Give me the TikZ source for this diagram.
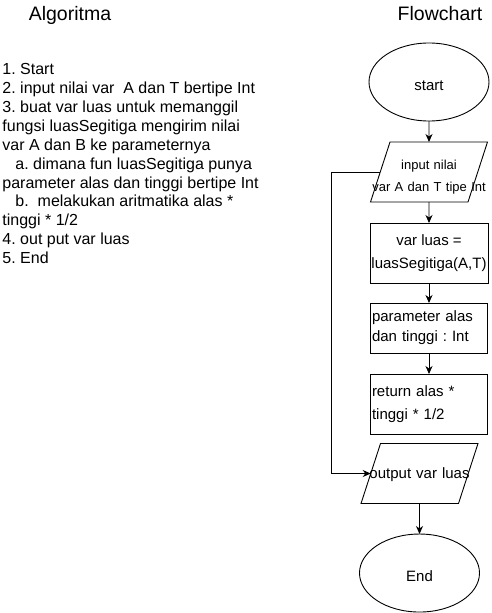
\documentclass[tikz,border=0pt]{standalone}
\usepackage{fontspec}
\setmainfont{Liberation Sans}
\usetikzlibrary{arrows.meta,positioning,shapes.geometric}
\tikzset{
  heading/.style={font=\fontsize{19.5}{23}\selectfont,anchor=base,inner sep=0pt},
  stepsText/.style={font=\fontsize{16}{18.9}\selectfont,align=left,anchor=north west,inner sep=0pt},
  term/.style={draw,ellipse,minimum width=120pt,minimum height=78pt,inner sep=0pt,outer sep=0pt,text height=16pt,text depth=0pt,font=\fontsize{15}{18}\selectfont},
  io/.style={draw,trapezium,trapezium left angle=72,trapezium right angle=108,inner sep=0pt,outer sep=0pt,text width=78pt,align=center},
  proc/.style={draw,rectangle,minimum width=117pt,minimum height=60pt,inner sep=1.5pt,outer sep=0pt,font=\fontsize{15}{23}\selectfont},
  arr/.style={-{Stealth[length=8pt,width=7pt,inset=2.5pt]}}
}
\begin{document}
\frenchspacing
\begin{tikzpicture}[x=1pt,y=1pt,line width=0.9pt]
\useasboundingbox (0,0) rectangle (491,-613);

\node[heading] (algTitle) at (70,-20) {Algoritma};
\node[heading] (fcTitle) at (440,-20) {Flowchart};

\node[stepsText] (steps) at (2,-63) {
1. Start\\
2. input nilai var\ \ A dan T bertipe Int\\
3. buat var luas untuk memanggil\\
fungsi luasSegitiga mengirim nilai\\
var A dan B ke parameternya\\
\hspace*{13pt}a. dimana fun luasSegitiga punya\\
parameter alas dan tinggi bertipe Int\\
\hspace*{13pt}b.\ \ melakukan aritmatika alas *\\
tinggi * 1/2\\
4. out put var luas\\
5. End
};

\node[term] (start) at (429,-82) {start};

\node[io,below=21pt of start,text height=27.5pt,text depth=32.5pt,font=\fontsize{13}{22}\selectfont] (input) {
\makebox[0pt]{input nilai}\\
\makebox[0pt]{var A dan T tipe Int}
};

\node[proc,below=21pt of input,align=center] (luas) {
var luas =\\
luasSegitiga(A,T)
};

\node[proc,below=20pt of luas,minimum height=50pt,text width=114pt,align=left,font=\fontsize{15}{20}\selectfont] (param) {
parameter alas\\
dan tinggi : Int
};

\node[proc,below=21pt of param,text width=114pt,align=left] (ret) {
return alas *\\
tinggi * 1/2
};

\node[io,below=9.5pt of ret,xshift=-9.5pt,text height=35pt,text depth=25pt,font=\fontsize{15}{18}\selectfont] (output) {
\makebox[0pt]{output var luas}
};

\node[term,below=30.5pt of output] (finish) {End};

\draw[arr] (start) -- (input);
\draw[arr] (input) -- (luas);
\draw[arr] (luas) -- (param);
\draw[arr] (param) -- (ret);
\draw[arr] (input.west) -- ++(-49,0) |- (output.west);
\draw[arr] (output) -- (finish);

\end{tikzpicture}
\end{document}
